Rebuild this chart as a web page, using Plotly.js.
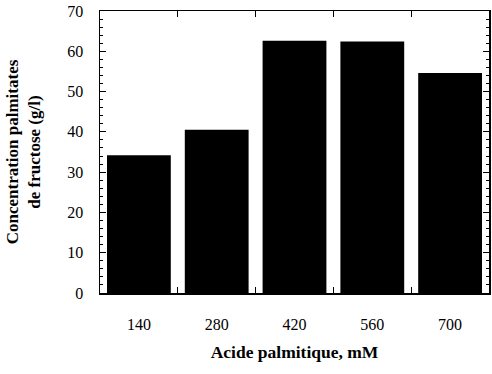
<!DOCTYPE html>
<html>
<head>
<meta charset="utf-8">
<script src="https://cdn.plot.ly/plotly-3.0.1.min.js"></script>
<style>html,body{margin:0;padding:0;background:#fff;}#chart{width:492px;height:374px;}</style>
</head>
<body>
<div id="chart"></div>
<script>
const categories = ["140", "280", "420", "560", "700"];
const concentrations = [34.2, 40.5, 62.6, 62.4, 54.6];
const yTickValues = [0, 10, 20, 30, 40, 50, 60, 70];

const serif = "Liberation Serif, Times New Roman, serif";

const trace = {
  type: "bar",
  x: categories,
  y: concentrations,
  marker: {color: "#000000", line: {width: 0}},
  hoverinfo: "skip"
};

const layout = {
  width: 492,
  height: 374,
  margin: {l: 100, r: 3, t: 11, b: 81, pad: 0},
  paper_bgcolor: "#ffffff",
  plot_bgcolor: "#ffffff",
  showlegend: false,
  bargap: 0.18,
  font: {family: serif, color: "#000000", size: 16},
  xaxis: {
    type: "category",
    range: [-0.5, 4.5],
    showline: true,
    linecolor: "#000000",
    linewidth: 1.5,
    mirror: "ticks",
    ticks: "inside",
    tickson: "boundaries",
    ticklen: 6,
    tickcolor: "#000000",
    ticklabelstandoff: 16,
    showgrid: false,
    zeroline: false,
    tickfont: {family: serif, size: 16, color: "#000000"},
    title: {text: "<b>Acide palmitique, mM</b>", font: {family: serif, size: 17.5, color: "#000000"}, standoff: 14}
  },
  yaxis: {
    range: [0, 70],
    tickvals: yTickValues,
    showline: true,
    linecolor: "#000000",
    linewidth: 1.5,
    mirror: "ticks",
    ticks: "inside",
    ticklen: 6,
    tickcolor: "#000000",
    minor: {dtick: 2, ticks: "inside", ticklen: 3, tickcolor: "#000000"},
    ticklabelstandoff: 12,
    showgrid: false,
    zeroline: false,
    tickfont: {family: serif, size: 16, color: "#000000"},
    title: {text: "<b>Concentration palmitates<br>de fructose (g/l)</b>", font: {family: serif, size: 17, color: "#000000"}, standoff: 22}
  }
};

Plotly.newPlot("chart", [trace], layout, {displayModeBar: false, staticPlot: true});
</script>
</body>
</html>
